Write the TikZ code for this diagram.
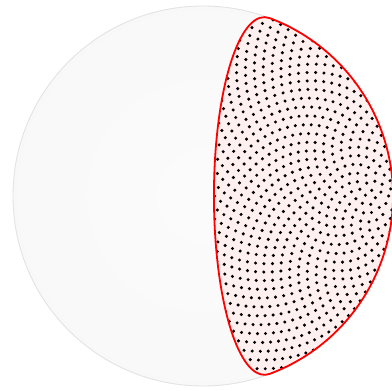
\documentclass[tikz,border=0pt]{standalone}
\usepackage{tikz}

\pgfdeclareradialshading{spherefade}{\pgfpoint{0bp}{0bp}}{%
  color(0bp)=(white!98.5!black); color(35bp)=(white!97!black); color(50bp)=(white!94!black)}

\begin{document}
\begin{tikzpicture}[
        x=1pt, y=1pt,
        sphere/.style={shading=spherefade, draw=white!89!black, line width=0.9pt},
        capfill/.style={fill=red!6},
        capline/.style={draw=red, line width=1.8pt, line join=round},
        dot/.style={fill=black}
    ]
    \useasboundingbox (-203,-195) rectangle (189,196);
    \def\R{190}
    % cap of angular radius 70.3, its pole tilted 73.6 from the viewer
    \pgfmathsetmacro{\ca}{cos(70.3)}
    \pgfmathsetmacro{\sa}{sin(70.3)}
    \pgfmathsetmacro{\cb}{cos(73.6)}
    \pgfmathsetmacro{\sb}{sin(73.6)}
    \pgfmathsetmacro{\tzero}{acos(\ca*\cb/(\sa*\sb))}
    \pgfmathsetmacro{\thzero}{acos(\ca/\sb)}
    \pgfmathsetmacro{\xr}{\R*\sa*\cb}
    \pgfmathsetmacro{\yr}{\R*\sa}
    \pgfmathsetmacro{\polex}{\R*\sb}
    \def\spread{4.75}

    \shadedraw[sphere] (0,0) circle[radius=\R];
    \coordinate (captop) at (\thzero:\R);
    \coordinate (pole) at (\polex,0);

    \path[capfill, save path=\capcontour] (captop)
        arc[start angle=\tzero, end angle=360-\tzero, x radius=\xr, y radius=\yr]
        arc[start angle=-\thzero, end angle=\thzero, radius=\R] -- cycle;

    % sunflower of points round the pole, cut to the cap
    \begin{scope}
        \clip[use path=\capcontour];
        \foreach \i in {0,...,2100} {
            \edef\rr{\fpeval{\spread*sqrt(\i+0.5)}}
            \edef\ph{\fpeval{\i*2.399963229728653}}
            \edef\px{\fpeval{round(\rr*cos(\ph),2)}}
            \edef\py{\fpeval{round(\rr*sin(\ph),2)}}
            \fill[dot] ([shift={(\px,\py)}]pole) circle[radius=1.7];
        }
    \end{scope}

    \path[capline, use path=\capcontour];
\end{tikzpicture}
\end{document}
